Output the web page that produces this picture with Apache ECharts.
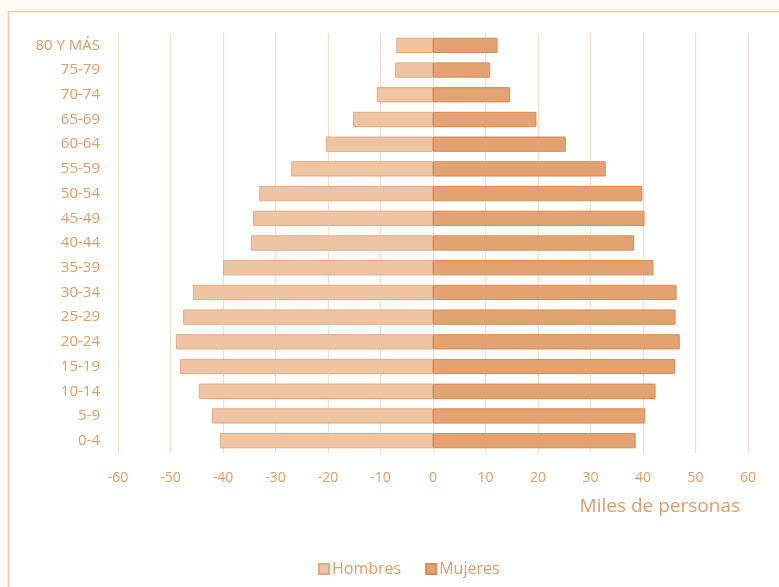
<!DOCTYPE html>
<html>
<head>
<meta charset="utf-8">
<script src="https://cdn.jsdelivr.net/npm/echarts@6/dist/echarts.min.js"></script>
<style>
html,body{margin:0;padding:0;background:#fdf9f5;}
#c{width:779px;height:587px;}
</style>
</head>
<body>
<div id="c"></div>
<script>
const categories = ['0-4','5-9','10-14','15-19','20-24','25-29','30-34','35-39','40-44','45-49','50-54','55-59','60-64','65-69','70-74','75-79','80 Y MÁS'];
const hombres = [-40.6,-42.1,-44.6,-48.2,-49.0,-47.6,-45.7,-40.0,-34.7,-34.3,-33.1,-27.0,-20.4,-15.2,-10.7,-7.2,-7.0];
const mujeres = [38.6,40.4,42.4,46.1,47.0,46.2,46.4,42.0,38.3,40.3,39.9,32.9,25.3,19.7,14.7,10.9,12.3];
const xTicks = {min:-60, max:60, interval:10};

const txt = '#e09c66';
const chart = echarts.init(document.getElementById('c'));
chart.setOption({
  backgroundColor:'#fdf9f5',
  animation:false,
  textStyle:{fontFamily:'Open Sans'},
  graphic:[{type:'rect',z:-10,shape:{x:8.5,y:11.5,width:800,height:600},style:{fill:'#ffffff',stroke:'#f2c8a6',lineWidth:1.5}}],
  grid:{left:118,right:31,top:33,bottom:134},
  legend:{left:313,top:556,itemWidth:10,itemHeight:10,itemGap:24,icon:'rect',
    textStyle:{color:txt,fontSize:16,fontFamily:'Open Sans',padding:[0,0,0,-2]},data:['Hombres','Mujeres']},
  xAxis:{type:'value',min:xTicks.min,max:xTicks.max,interval:xTicks.interval,
    axisLine:{show:false},axisTick:{show:false},
    axisLabel:{color:txt,fontSize:14,margin:18},
    splitLine:{lineStyle:{color:'#f6dccb',width:1.2}},
    name:'Miles de personas',nameLocation:'end',nameGap:-8,
    nameTextStyle:{color:txt,fontSize:19,align:'right',verticalAlign:'top',padding:[44,0,0,0]}},
  yAxis:{type:'category',data:categories,
    axisLine:{show:false},axisTick:{show:false},
    axisLabel:{color:txt,fontSize:15,margin:18},splitLine:{show:false}},
  series:[
    {name:'Hombres',type:'bar',stack:'t',data:hombres,barCategoryGap:'38%',
      itemStyle:{color:'#eec4a2',borderColor:'#e3aa80',borderWidth:1}},
    {name:'Mujeres',type:'bar',stack:'t',data:mujeres,barCategoryGap:'38%',
      itemStyle:{color:'#e2a271',borderColor:'#d68c55',borderWidth:1}}
  ]
});
</script>
</body>
</html>
